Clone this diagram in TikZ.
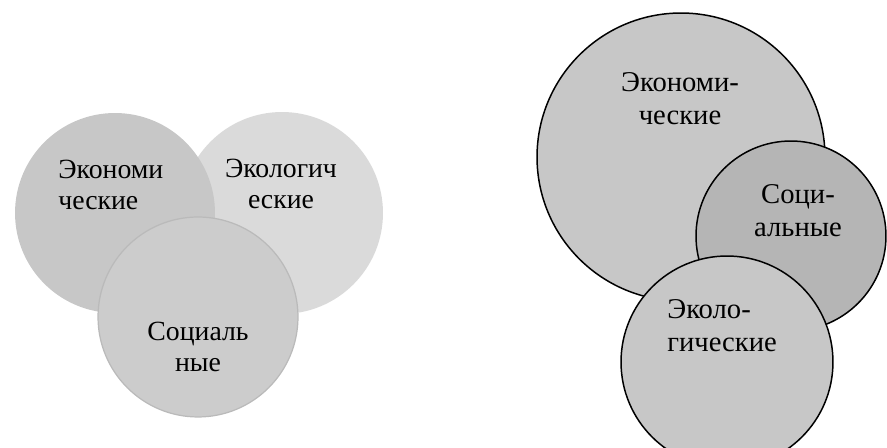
\documentclass[tikz,border=0pt]{standalone}
\usepackage{fontspec}
\setmainfont{Liberation Serif}
\definecolor{econfill}{RGB}{199,199,199}
\definecolor{ecofill}{RGB}{218,218,218}
\definecolor{socfill}{RGB}{204,204,204}
\definecolor{socline}{RGB}{186,186,186}
\definecolor{socdark}{RGB}{181,181,181}
\begin{document}
\begin{tikzpicture}[x=0.02cm,y=-0.02cm,
  ring/.style={circle,inner sep=0pt,minimum size=#1},
  lbl/.style={inner sep=0pt,font=\fontsize{15.8}{18.2}\selectfont},
  lblr/.style={inner sep=0pt,font=\fontsize{16.3}{19.2}\selectfont}]
\clip (0,0) rectangle (887,448);
% left
\node at (282,213)[ring=4.04cm,fill=ecofill] (EcoL) {};
\node at (115,213)[ring=4cm,fill=econfill] (EconL) {};
\node at (198,317)[ring=4cm,fill=socfill,draw=socline,line width=0.7pt] (SocL) {};
\node at (58,210)[lbl,anchor=base west,align=left] (EconLtxt) {Экономи\\ческие};
\node at (281,209)[lbl,anchor=base,align=center] (EcoLtxt) {Экологич\\еские};
\node at (198,372)[lbl,anchor=base,align=center] (SocLtxt) {Социаль\\ные};
% right
\node at (681,157)[ring=5.76cm,fill=econfill,draw,line width=0.85pt] (EconR) {};
\node at (791,236)[ring=3.8cm,fill=socdark,draw,line width=0.85pt] (SocR) {};
\node at (727,362)[ring=4.24cm,fill=econfill,draw,line width=0.85pt] (EcoR) {};
\node at (680,125)[lblr,anchor=base,align=center] (EconRtxt) {Экономи-\\ческие};
\node at (798,237)[lblr,anchor=base,align=center] (SocRtxt) {Соци-\\альные};
\node at (667,352)[lblr,anchor=base west,align=left] (EcoRtxt) {Эколо-\\гические};
\end{tikzpicture}
\end{document}
